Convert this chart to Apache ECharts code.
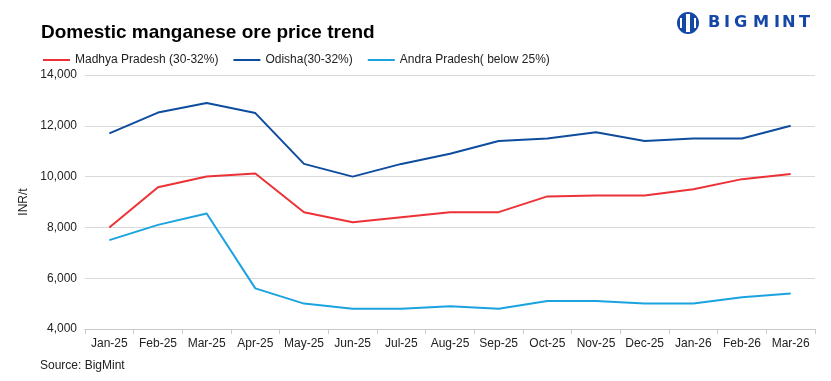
<!DOCTYPE html>
<html><head><meta charset="utf-8">
<script src="https://cdn.jsdelivr.net/npm/echarts@6/dist/echarts.min.js"></script>
<style>html,body{margin:0;padding:0;background:#fff}#c{width:831px;height:381px}</style>
</head><body><div id="c"></div>
<script>
const categories = ['Jan-25','Feb-25','Mar-25','Apr-25','May-25','Jun-25','Jul-25','Aug-25','Sep-25','Oct-25','Nov-25','Dec-25','Jan-26','Feb-26','Mar-26'];
const madhyaPradesh = [8000,9580,10000,10120,8600,8200,8400,8600,8600,9220,9260,9260,9500,9900,10100];
const odisha = [11700,12520,12900,12500,10500,10000,10500,10900,11400,11500,11750,11400,11500,11500,12000];
const andhraPradesh = [7500,8100,8550,5600,5000,4800,4800,4900,4800,5100,5100,5000,5000,5250,5400];
const yTicks = {min:4000,max:14000,interval:2000};

const chart = echarts.init(document.getElementById('c'));
const font = 'Liberation Sans, Arial, sans-serif';
const logoX = [708,724,734,753,774,782,799];
const logoLetters = 'BIGMINT'.split('').map((ch,i)=>({
  type:'text',x:logoX[i],y:16,scaleX:1.08,
  style:{text:ch,font:'bold 15px DejaVu Sans, sans-serif',fill:'#1447A8'}
}));
chart.setOption({
  animation:false,
  title:{text:'Domestic manganese ore price trend',left:36,top:18,textStyle:{fontFamily:font,fontSize:19,fontWeight:'bold',color:'#000'}},
  legend:{left:38,top:49,itemWidth:27,itemHeight:2,itemGap:15,icon:'rect',
    textStyle:{fontFamily:font,fontSize:12,color:'#222'},
    data:['Madhya Pradesh (30-32%)','Odisha(30-32%)','Andra Pradesh( below 25%)']},
  grid:{left:85,right:16,top:75,bottom:52},
  xAxis:{type:'category',data:categories,boundaryGap:true,
    axisLine:{lineStyle:{color:'#c8c8c8'}},
    axisTick:{show:true,length:5,lineStyle:{color:'#c8c8c8'}},
    axisLabel:{fontFamily:font,fontSize:12,color:'#222',margin:9,interval:0}},
  yAxis:{type:'value',min:yTicks.min,max:yTicks.max,interval:yTicks.interval,
    name:'INR/t',nameLocation:'middle',nameGap:55,nameRotate:90,
    nameTextStyle:{fontFamily:font,fontSize:12,color:'#222'},
    axisLabel:{fontFamily:font,fontSize:12,color:'#222',margin:8,formatter:v=>v.toLocaleString('en-US')},
    axisLine:{show:false},axisTick:{show:false},
    splitLine:{lineStyle:{color:'#d9d9d9',width:1}}},
  series:[
    {name:'Madhya Pradesh (30-32%)',type:'line',data:madhyaPradesh,symbol:'none',lineStyle:{color:'#EC3237',width:2},itemStyle:{color:'#EC3237'}},
    {name:'Odisha(30-32%)',type:'line',data:odisha,symbol:'none',lineStyle:{color:'#0E4C9E',width:2},itemStyle:{color:'#0E4C9E'}},
    {name:'Andra Pradesh( below 25%)',type:'line',data:andhraPradesh,symbol:'none',lineStyle:{color:'#1BA3E0',width:2},itemStyle:{color:'#1BA3E0'}}
  ],
  graphic:[
    {type:'text',left:40,top:360,style:{text:'Source: BigMint',font:'12px '+font,fill:'#222'}},
    {type:'circle',shape:{cx:688,cy:23,r:11},style:{fill:'#1447A8'}},
    {type:'rect',shape:{x:686,y:14,width:4,height:18},style:{fill:'#fff'}},
    {type:'rect',shape:{x:680,y:18,width:2,height:10},style:{fill:'#fff'}},
    {type:'rect',shape:{x:694,y:18,width:2,height:10},style:{fill:'#fff'}}
  ].concat(logoLetters)
});
</script></body></html>
